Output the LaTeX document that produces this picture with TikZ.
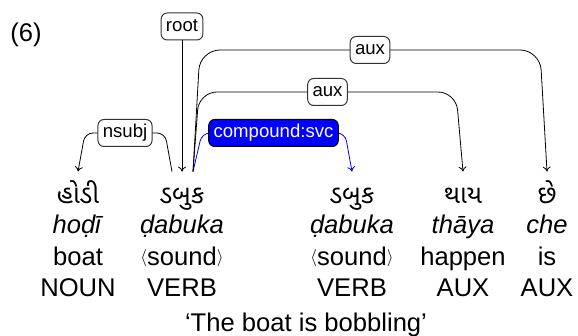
\documentclass[tikz,border=0pt]{standalone}
\usepackage{fontspec}
\setmainfont{Liberation Sans}
\newfontfamily\gujfont[Script=Gujarati]{Noto Sans Gujarati UI}
\usetikzlibrary{arrows.meta}
\definecolor{svcblue}{RGB}{0,0,255}
\newcommand{\lang}{\raisebox{0.15ex}{\scalebox{0.72}{$\langle$}}}
\newcommand{\rang}{\raisebox{0.15ex}{\scalebox{0.72}{$\rangle$}}}

\begin{document}
\begin{tikzpicture}[
      x=0.5pt, y=-0.5pt,
      word/.style={font=\fontsize{12.8pt}{15pt}\selectfont, inner sep=0pt, anchor=base},
      gword/.style={font=\gujfont\fontsize{12.8pt}{15pt}\selectfont, inner sep=0pt,
                    anchor=base, text height=16pt, text depth=0pt},
      lab/.style={rectangle, rounded corners=3pt, draw=black!80, line width=0.5pt, fill=white,
                  font=\fontsize{9.3pt}{11pt}\selectfont, inner xsep=2.4pt, inner ysep=0pt,
                  minimum height=13.5pt, text height=7pt, text depth=2pt},
      dep/.style={-{To[length=2.5pt,width=4pt]}, line width=0.4pt, draw=black}
    ]
    \useasboundingbox (0,0) rectangle (578,336);
    \node[word, anchor=base west] (exnum) at (10,42) {(6)};
    % words, one column each
    \foreach \i/\x/\gu/\tr/\gl/\pos in {1/78/હોડી/hoḍī/boat/NOUN,
        2/182/ડબુક/ḍabuka/\lang sound\rang/VERB,
        3/352/ડબુક/ḍabuka/\lang sound\rang/VERB,
        4/463/થાય/thāya/happen/AUX,
        5/547/છે/che/is/AUX}{
      \node[gword] (w\i) at (\x,204) {\gu};
      \node[word] (t\i) at (\x,234) {\textit{\tr}};
      \node[word] (e\i) at (\x,265) {\gl};
      \node[word] (p\i) at (\x,296) {\pos};
    }
    \node[word] (transl) at (306,331) {‘The boat is bobbling’};
    % dependencies
    \node[lab] (root) at (182,26.5) {root};
    \draw[dep] (root) -- (w2);
    \draw[dep, rounded corners=4pt] ([xshift=-5pt]w2.north) -- (165,133)
      -- node[lab] (nsubj) {nsubj} (85,133) -- (w1.north);
    \draw[dep, draw=svcblue, rounded corners=4pt] ([xshift=5.5pt]w2.north) -- (202,133)
      -- node[lab, fill=svcblue, draw=black, text=white] (svc) {compound:svc} (345,133) -- (w3.north);
    \draw[dep, rounded corners=9pt] ([xshift=5.5pt]w2.north) -- (199,92)
      -- node[lab] (aux1) {aux} (456,92) -- (w4.north);
    \draw[dep, rounded corners=10pt] ([xshift=5.5pt]w2.north) -- (200,50)
      -- node[lab] (aux2) {aux} (540,50) -- (w5.north);
  \end{tikzpicture}
\end{document}
